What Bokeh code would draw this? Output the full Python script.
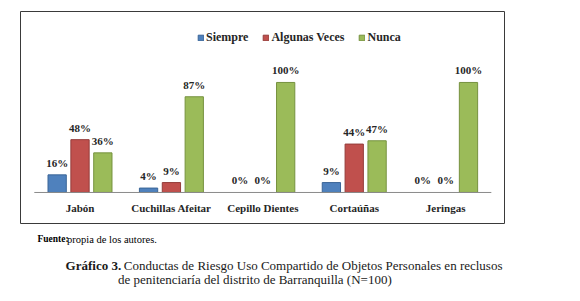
from bokeh.plotting import figure
from bokeh.layouts import column
from bokeh.models import ColumnDataSource, Range1d
from bokeh.core.properties import value
from bokeh.embed import file_html
from bokeh.resources import INLINE

categories = ["Jabón", "Cuchillas Afeitar", "Cepillo Dientes", "Cortaúñas", "Jeringas"]
series_names = ["Siempre", "Algunas Veces", "Nunca"]
siempre = [16, 4, 0, 9, 0]
algunas_veces = [48, 9, 0, 44, 0]
nunca = [36, 87, 100, 47, 100]
series_values = [siempre, algunas_veces, nunca]
colors = ["#4F81BD", "#C0504D", "#9BBB59"]
borders = ["#3A6597", "#943C3A", "#76923F"]

source_text = ("Fuente:", "propia de los autores.")
caption_bold = "Gráfico 3."
caption_line1 = "Conductas de Riesgo Uso Compartido de Objetos Personales en reclusos"
caption_line2 = "de penitenciaría del distrito de Barranquilla (N=100)"

FONT = "Liberation Sans Narrow"
SERIF = "Liberation Serif"

W = 572
H1 = 226
n = len(categories)
idx = list(range(n))

p = figure(width=W, height=H1, output_backend="svg", toolbar_location=None,
           x_axis_type=None, y_axis_type=None, title=None,
           x_range=Range1d(-0.651, n - 0.356), y_range=Range1d(-28.2, 164.5),
           min_border_left=20, min_border_right=68, min_border_top=11, min_border_bottom=3)
p.grid.visible = False
p.outline_line_color = "#3a3a3a"
p.outline_line_width = 1
p.background_fill_color = "white"
p.border_fill_color = "white"

offsets = [-0.25, 0.0, 0.25]
for name, vals, col, bc, off in zip(series_names, series_values, colors, borders, offsets):
    src = ColumnDataSource(dict(
        x=[i + off for i in idx], top=vals,
        lab=[f"{v}%" for v in vals],
        la=[0.0 if v == 0 else 1.0 for v in vals]))
    p.vbar(x="x", top="top", bottom=0, width=0.2, source=src, fill_color=col,
           line_color=bc, line_alpha="la", line_width=1, legend_label=name)
    p.text(x="x", y="top", text="lab", source=src, text_align="center",
           text_baseline="middle", y_offset=-12, text_font=value(FONT),
           text_font_style="bold", text_font_size="11px", text_color="#262626")

# baseline (category axis line)
p.segment(x0=[-0.5], y0=[0], x1=[n - 0.5], y1=[0], line_color="#8a8a8a", line_width=1)

# category labels
p.text(x=idx, y=[0] * n, text=categories, text_align="center", text_baseline="middle",
       y_offset=16, text_font=value(FONT), text_font_style="bold",
       text_font_size="11px", text_color="#262626")

lg = p.legend[0]
lg.orientation = "horizontal"
lg.location = (177, 178)
lg.glyph_width = 7
lg.glyph_height = 7
lg.label_height = 10
lg.label_standoff = 2
lg.spacing = 14
lg.padding = 0
lg.margin = 0
lg.border_line_color = None
lg.background_fill_alpha = 0
lg.label_text_font = FONT
lg.label_text_font_style = "bold"
lg.label_text_font_size = "12px"
lg.label_text_color = "#262626"

H2 = 70
q = figure(width=W, height=H2, output_backend="svg", toolbar_location=None,
           x_axis_type=None, y_axis_type=None, title=None,
           x_range=Range1d(0, W), y_range=Range1d(H2, 0),
           min_border=0, min_border_left=0, min_border_right=0,
           min_border_top=0, min_border_bottom=0)
q.grid.visible = False
q.outline_line_color = None
q.background_fill_color = "white"
q.border_fill_color = "white"

q.text(x=[20], y=[12.5], text=[source_text[0]], text_align="left", text_baseline="alphabetic",
       text_font=value(SERIF), text_font_style="bold", text_font_size="9.5px", text_color="black")
q.text(x=[55], y=[12.5], text=[source_text[1]], text_align="left", text_baseline="alphabetic",
       text_font=value(SERIF), text_font_size="10.5px", text_color="black")
q.text(x=[119], y=[38.5], text=[caption_bold], text_align="right", text_baseline="alphabetic",
       text_font=value(SERIF), text_font_style="bold", text_font_size="13px", text_color="#1a1a1a")
q.text(x=[122], y=[38.5], text=[caption_line1], text_align="left", text_baseline="alphabetic",
       text_font=value(SERIF), text_font_size="13px", text_color="#1a1a1a")
q.text(x=[277], y=[53], text=[caption_line2], text_align="center", text_baseline="alphabetic",
       text_font=value(SERIF), text_font_size="13px", text_color="#1a1a1a")

layout = column(p, q)
open("out.html", "w").write(file_html(layout, INLINE))
